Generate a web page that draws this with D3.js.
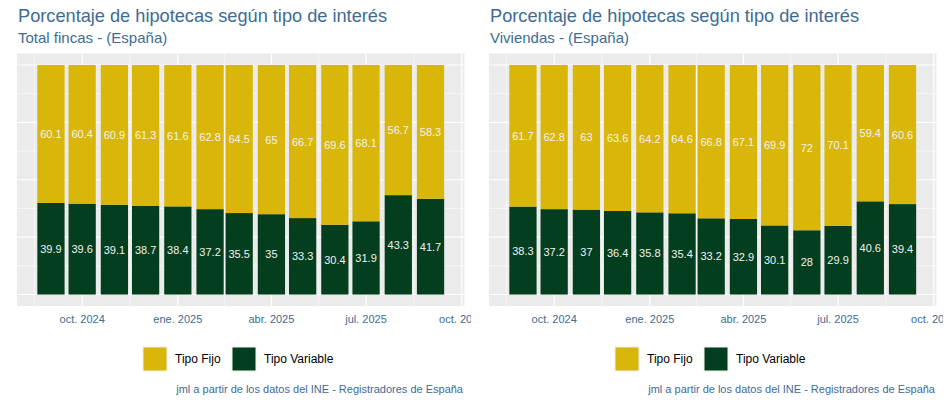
<!DOCTYPE html>
<html>
<head>
<meta charset="utf-8">
<script src="https://cdn.jsdelivr.net/npm/d3@7"></script>
<style>
  body { margin: 0; background: #ffffff; }
  svg { display: block; font-family: "Liberation Sans", Arial, sans-serif; }
</style>
</head>
<body>
<svg id="chart" width="944" height="404"></svg>
<script>
// monthly data, sep 2024 .. sep 2025
const months = ["2024-09-01", "2024-10-01", "2024-11-01", "2024-12-01", "2025-01-01", "2025-02-01",
  "2025-03-01", "2025-04-01", "2025-05-01", "2025-06-01", "2025-07-01", "2025-08-01", "2025-09-01"];

const fincas_fijo = [60.1, 60.4, 60.9, 61.3, 61.6, 62.8, 64.5, 65, 66.7, 69.6, 68.1, 56.7, 58.3];
const fincas_variable = [39.9, 39.6, 39.1, 38.7, 38.4, 37.2, 35.5, 35, 33.3, 30.4, 31.9, 43.3, 41.7];

const viviendas_fijo = [61.7, 62.8, 63, 63.6, 64.2, 64.6, 66.8, 67.1, 69.9, 72, 70.1, 59.4, 60.6];
const viviendas_variable = [38.3, 37.2, 37, 36.4, 35.8, 35.4, 33.2, 32.9, 30.1, 28, 29.9, 40.6, 39.4];

const tick_dates = ["2024-10-01", "2025-01-01", "2025-04-01", "2025-07-01", "2025-10-01"];
const tick_labels = ["oct. 2024", "ene. 2025", "abr. 2025", "jul. 2025", "oct. 2025"];

const series_names = ["Tipo Fijo", "Tipo Variable"];
const series_colors = ["#D9B60A", "#033F1E"];

const title_text = "Porcentaje de hipotecas según tipo de interés";
const subtitles = ["Total fincas - (España)", "Viviendas - (España)"];
const caption_text = "jml a partir de los datos del INE - Registradores de España";

const text_blue = "#406B93";
const day = 24 * 3600 * 1000;
const half_width = 13.1 * day;

const svg = d3.select("#chart");
const parse = d3.utcParse("%Y-%m-%d");

function draw_panel(ox, subtitle, fijo, variable, idx) {
    let g = svg.append("g").attr("transform", "translate(" + ox + ",0)");

    g.append("clipPath").attr("id", "clip" + idx)
        .append("rect").attr("x", 0).attr("y", 0).attr("width", 471).attr("height", 404);
    g.attr("clip-path", "url(#clip" + idx + ")");

    let rows = months.map(function (m, i) {
        return { date: parse(m), "Tipo Fijo": fijo[i], "Tipo Variable": variable[i] };
    });

    // stack with variable at the bottom, fijo on top
    let stack = d3.stack().keys(["Tipo Variable", "Tipo Fijo"]);
    let layers = stack(rows);

    let lo = +rows[0].date - half_width;
    let hi = +rows[rows.length - 1].date + half_width;
    let pad = (hi - lo) * 0.05;

    let x = d3.scaleUtc()
        .domain([new Date(lo - pad), new Date(hi + pad)])
        .range([17, 464.5]);

    let y = d3.scaleLinear()
        .domain([-5, 105])
        .range([306, 53.5]);

    // panel background
    g.append("rect")
        .attr("x", 17).attr("y", 53.5)
        .attr("width", 447.5).attr("height", 252.5)
        .attr("fill", "#EBEBEB");

    let majors_x = tick_dates.map(parse);
    majors_x.unshift(parse("2024-07-01"));
    let minors_x = [];
    for (let i = 0; i < majors_x.length - 1; i++) {
        minors_x.push(new Date((+majors_x[i] + +majors_x[i + 1]) / 2));
    }
    let majors_y = [0, 25, 50, 75, 100];
    let minors_y = [12.5, 37.5, 62.5, 87.5];

    let grid = g.append("g");
    grid.selectAll(".minx").data(minors_x).enter().append("line")
        .attr("x1", d => x(d)).attr("x2", d => x(d))
        .attr("y1", 53.5).attr("y2", 306)
        .style("stroke", "#ffffff").style("stroke-width", 0.6);
    grid.selectAll(".miny").data(minors_y).enter().append("line")
        .attr("x1", 17).attr("x2", 464.5)
        .attr("y1", d => y(d)).attr("y2", d => y(d))
        .style("stroke", "#ffffff").style("stroke-width", 0.6);
    grid.selectAll(".majx").data(majors_x.filter(d => x(d) >= 17 && x(d) <= 464.5)).enter().append("line")
        .attr("x1", d => x(d)).attr("x2", d => x(d))
        .attr("y1", 53.5).attr("y2", 306)
        .style("stroke", "#ffffff").style("stroke-width", 1.2);
    grid.selectAll(".majy").data(majors_y).enter().append("line")
        .attr("x1", 17).attr("x2", 464.5)
        .attr("y1", d => y(d)).attr("y2", d => y(d))
        .style("stroke", "#ffffff").style("stroke-width", 1.2);

    // bars
    let bars = g.append("g");
    layers.forEach(function (layer) {
        let color = series_colors[series_names.indexOf(layer.key)];
        bars.selectAll(null).data(layer).enter().append("rect")
            .attr("x", d => x(new Date(+d.data.date - half_width)))
            .attr("width", d => x(new Date(+d.data.date + half_width)) - x(new Date(+d.data.date - half_width)))
            .attr("y", d => y(d[1]))
            .attr("height", d => y(d[0]) - y(d[1]))
            .attr("fill", color);

        bars.selectAll(null).data(layer).enter().append("text")
            .attr("x", d => x(d.data.date))
            .attr("y", d => (y(d[0]) + y(d[1])) / 2 + 4)
            .attr("text-anchor", "middle")
            .attr("fill", "#F2F2F2")
            .style("font-size", "11px")
            .text(d => d.data[layer.key]);
    });

    // x axis labels
    g.selectAll(".xlab").data(tick_dates).enter().append("text")
        .attr("x", d => x(parse(d)))
        .attr("y", 323)
        .attr("text-anchor", "middle")
        .attr("fill", text_blue)
        .style("font-size", "11px")
        .text((d, i) => tick_labels[i]);

    // titles
    g.append("text").attr("x", 18).attr("y", 22)
        .attr("fill", text_blue).style("font-size", "18.2px")
        .text(title_text);
    g.append("text").attr("x", 18).attr("y", 43)
        .attr("fill", text_blue).style("font-size", "15px")
        .text(subtitle);

    // legend
    let lx = [143, 232];
    series_names.forEach(function (name, i) {
        g.append("rect")
            .attr("x", lx[i]).attr("y", 347)
            .attr("width", 24).attr("height", 24)
            .attr("fill", series_colors[i])
            .style("stroke", "#F0F0F0").style("stroke-width", 1);
        g.append("text")
            .attr("x", lx[i] + 32).attr("y", 363)
            .attr("fill", "#000000").style("font-size", "12px")
            .text(name);
    });

    // caption
    g.append("text").attr("x", 463).attr("y", 393)
        .attr("text-anchor", "end")
        .attr("fill", text_blue).style("font-size", "11px")
        .text(caption_text);
}

draw_panel(0, subtitles[0], fincas_fijo, fincas_variable, 0);
draw_panel(472, subtitles[1], viviendas_fijo, viviendas_variable, 1);
</script>
</body>
</html>
